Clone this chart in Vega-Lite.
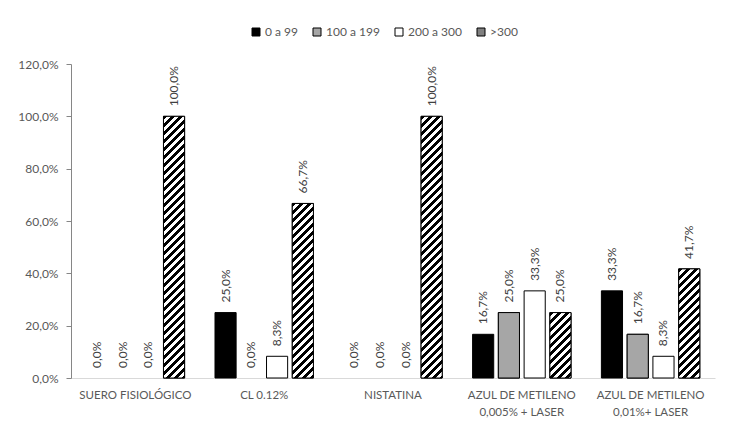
{
  "$schema": "https://vega.github.io/schema/vega-lite/v6.json",
  "autosize": {"type": "none"},
  "width": 644,
  "height": 314,
  "padding": {"left": 71, "top": 64, "right": 27, "bottom": 63},
  "background": "white",
  "config": {
    "font": "Lato",
    "view": {"stroke": null},
    "locale": {"number": {"decimal": ",", "thousands": ".", "grouping": [3], "currency": ["", " €"]}},
    "axis": {"grid": false, "labelFont": "Lato", "labelFontSize": 12, "labelColor": "#595959", "title": null}
  },
  "data": {"values": [
    {"grupo": "SUERO FISIOLÓGICO", "rango": "0 a 99", "valor": 0},
    {"grupo": "SUERO FISIOLÓGICO", "rango": "100 a 199", "valor": 0},
    {"grupo": "SUERO FISIOLÓGICO", "rango": "200 a 300", "valor": 0},
    {"grupo": "SUERO FISIOLÓGICO", "rango": ">300", "valor": 1.0},
    {"grupo": "CL 0.12%", "rango": "0 a 99", "valor": 0.25},
    {"grupo": "CL 0.12%", "rango": "100 a 199", "valor": 0},
    {"grupo": "CL 0.12%", "rango": "200 a 300", "valor": 0.083},
    {"grupo": "CL 0.12%", "rango": ">300", "valor": 0.667},
    {"grupo": "NISTATINA", "rango": "0 a 99", "valor": 0},
    {"grupo": "NISTATINA", "rango": "100 a 199", "valor": 0},
    {"grupo": "NISTATINA", "rango": "200 a 300", "valor": 0},
    {"grupo": "NISTATINA", "rango": ">300", "valor": 1.0},
    {"grupo": "AZUL DE METILENO\n0,005% + LASER", "rango": "0 a 99", "valor": 0.167},
    {"grupo": "AZUL DE METILENO\n0,005% + LASER", "rango": "100 a 199", "valor": 0.25},
    {"grupo": "AZUL DE METILENO\n0,005% + LASER", "rango": "200 a 300", "valor": 0.333},
    {"grupo": "AZUL DE METILENO\n0,005% + LASER", "rango": ">300", "valor": 0.25},
    {"grupo": "AZUL DE METILENO\n0,01%+ LASER", "rango": "0 a 99", "valor": 0.333},
    {"grupo": "AZUL DE METILENO\n0,01%+ LASER", "rango": "100 a 199", "valor": 0.167},
    {"grupo": "AZUL DE METILENO\n0,01%+ LASER", "rango": "200 a 300", "valor": 0.083},
    {"grupo": "AZUL DE METILENO\n0,01%+ LASER", "rango": ">300", "valor": 0.417}
  ]},
  "encoding": {
    "x": {"field": "grupo", "type": "nominal", "sort": null,
      "scale": {"paddingInner": 0.2, "paddingOuter": 0.1},
      "axis": {"labelAngle": 0, "ticks": false, "domainColor": "#d9d9d9", "labelFontSize": 11.5, "labelPadding": 11, "labelLineHeight": 17, "labelExpr": "split(datum.label, '\\n')"}},
    "xOffset": {"field": "rango", "type": "nominal", "sort": ["0 a 99", "100 a 199", "200 a 300", ">300"],
      "scale": {"paddingInner": 0.18, "paddingOuter": 0.09}},
    "y": {"field": "valor", "type": "quantitative",
      "scale": {"domain": [0, 1.2], "nice": false},
      "axis": {"values": [0, 0.2, 0.4, 0.6, 0.8, 1.0, 1.2], "format": ".1%", "labelFontSize": 12, "domainColor": "#868686", "tickColor": "#868686", "tickSize": 5, "labelPadding": 8}}
  },
  "layer": [
    {
      "transform": [{"filter": "datum.valor > 0"}],
      "mark": {"type": "bar", "stroke": "#000", "strokeWidth": 1},
      "encoding": {
        "color": {"field": "rango", "type": "nominal", "sort": ["0 a 99", "100 a 199", "200 a 300", ">300"],
          "scale": {"domain": ["0 a 99", "100 a 199", "200 a 300", ">300"],
            "range": ["#000000", "#a6a6a6", "#ffffff", "#808080"]},
          "legend": {"orient": "none", "legendX": 179, "legendY": -38, "direction": "horizontal", "title": null,
            "symbolType": "square", "symbolSize": 64, "symbolStrokeColor": "#000", "symbolStrokeWidth": 1,
            "labelFontSize": 12, "labelColor": "#595959", "labelFont": "Lato", "columnPadding": 13, "labelOffset": 3,
            "encoding": {"symbols": {
              "stroke": {"value": "#000"},
              "strokeWidth": {"value": 1},
              "fill": {"value": {"expr": "datum.label == '>300' ? {gradient: 'linear', x1: 0, y1: 0, x2: 1, y2: 1, stops: [{offset: 0, color: '#fff'}, {offset: 0.5, color: '#fff'}, {offset: 0.5, color: '#000'}, {offset: 1, color: '#000'}]} : datum.label == '100 a 199' ? {gradient: 'radial', x1: 0.5, y1: 0.5, r1: 0, x2: 0.5, y2: 0.5, r2: 0.5, stops: [{offset: 0, color: '#000'}, {offset: 0.42, color: '#000'}, {offset: 0.42, color: '#fff'}, {offset: 1, color: '#fff'}]} : datum.label == '0 a 99' ? '#000' : '#fff'"}}}}}
        }
      }
    },
    {
      "transform": [{"filter": "datum.valor > 0 && (datum.rango == '>300' || datum.rango == '100 a 199')"}],
      "mark": {"type": "bar", "stroke": "#000", "strokeWidth": 1},
      "encoding": {
        "fill": {
          "condition": [
            {"test": "datum.rango == '100 a 199'", "value": "#a6a6a6"},
            {"test": "datum.valor > 0.9", "value": {"gradient": "linear", "x1": 0, "y1": 0, "x2": 0.09797, "y2": 1.21502, "stops": [
              {"offset":0,"color":"#000"},{"offset":0.0125,"color":"#000"},{"offset":0.0125,"color":"#fff"},{"offset":0.025,"color":"#fff"},
              {"offset":0.025,"color":"#000"},{"offset":0.0375,"color":"#000"},{"offset":0.0375,"color":"#fff"},{"offset":0.05,"color":"#fff"},
              {"offset":0.05,"color":"#000"},{"offset":0.0625,"color":"#000"},{"offset":0.0625,"color":"#fff"},{"offset":0.075,"color":"#fff"},
              {"offset":0.075,"color":"#000"},{"offset":0.0875,"color":"#000"},{"offset":0.0875,"color":"#fff"},{"offset":0.1,"color":"#fff"},
              {"offset":0.1,"color":"#000"},{"offset":0.1125,"color":"#000"},{"offset":0.1125,"color":"#fff"},{"offset":0.125,"color":"#fff"},
              {"offset":0.125,"color":"#000"},{"offset":0.1375,"color":"#000"},{"offset":0.1375,"color":"#fff"},{"offset":0.15,"color":"#fff"},
              {"offset":0.15,"color":"#000"},{"offset":0.1625,"color":"#000"},{"offset":0.1625,"color":"#fff"},{"offset":0.175,"color":"#fff"},
              {"offset":0.175,"color":"#000"},{"offset":0.1875,"color":"#000"},{"offset":0.1875,"color":"#fff"},{"offset":0.2,"color":"#fff"},
              {"offset":0.2,"color":"#000"},{"offset":0.2125,"color":"#000"},{"offset":0.2125,"color":"#fff"},{"offset":0.225,"color":"#fff"},
              {"offset":0.225,"color":"#000"},{"offset":0.2375,"color":"#000"},{"offset":0.2375,"color":"#fff"},{"offset":0.25,"color":"#fff"},
              {"offset":0.25,"color":"#000"},{"offset":0.2625,"color":"#000"},{"offset":0.2625,"color":"#fff"},{"offset":0.275,"color":"#fff"},
              {"offset":0.275,"color":"#000"},{"offset":0.2875,"color":"#000"},{"offset":0.2875,"color":"#fff"},{"offset":0.3,"color":"#fff"},
              {"offset":0.3,"color":"#000"},{"offset":0.3125,"color":"#000"},{"offset":0.3125,"color":"#fff"},{"offset":0.325,"color":"#fff"},
              {"offset":0.325,"color":"#000"},{"offset":0.3375,"color":"#000"},{"offset":0.3375,"color":"#fff"},{"offset":0.35,"color":"#fff"},
              {"offset":0.35,"color":"#000"},{"offset":0.3625,"color":"#000"},{"offset":0.3625,"color":"#fff"},{"offset":0.375,"color":"#fff"},
              {"offset":0.375,"color":"#000"},{"offset":0.3875,"color":"#000"},{"offset":0.3875,"color":"#fff"},{"offset":0.4,"color":"#fff"},
              {"offset":0.4,"color":"#000"},{"offset":0.4125,"color":"#000"},{"offset":0.4125,"color":"#fff"},{"offset":0.425,"color":"#fff"},
              {"offset":0.425,"color":"#000"},{"offset":0.4375,"color":"#000"},{"offset":0.4375,"color":"#fff"},{"offset":0.45,"color":"#fff"},
              {"offset":0.45,"color":"#000"},{"offset":0.4625,"color":"#000"},{"offset":0.4625,"color":"#fff"},{"offset":0.475,"color":"#fff"},
              {"offset":0.475,"color":"#000"},{"offset":0.4875,"color":"#000"},{"offset":0.4875,"color":"#fff"},{"offset":0.5,"color":"#fff"},
              {"offset":0.5,"color":"#000"},{"offset":0.5125,"color":"#000"},{"offset":0.5125,"color":"#fff"},{"offset":0.525,"color":"#fff"},
              {"offset":0.525,"color":"#000"},{"offset":0.5375,"color":"#000"},{"offset":0.5375,"color":"#fff"},{"offset":0.55,"color":"#fff"},
              {"offset":0.55,"color":"#000"},{"offset":0.5625,"color":"#000"},{"offset":0.5625,"color":"#fff"},{"offset":0.575,"color":"#fff"},
              {"offset":0.575,"color":"#000"},{"offset":0.5875,"color":"#000"},{"offset":0.5875,"color":"#fff"},{"offset":0.6,"color":"#fff"},
              {"offset":0.6,"color":"#000"},{"offset":0.6125,"color":"#000"},{"offset":0.6125,"color":"#fff"},{"offset":0.625,"color":"#fff"},
              {"offset":0.625,"color":"#000"},{"offset":0.6375,"color":"#000"},{"offset":0.6375,"color":"#fff"},{"offset":0.65,"color":"#fff"},
              {"offset":0.65,"color":"#000"},{"offset":0.6625,"color":"#000"},{"offset":0.6625,"color":"#fff"},{"offset":0.675,"color":"#fff"},
              {"offset":0.675,"color":"#000"},{"offset":0.6875,"color":"#000"},{"offset":0.6875,"color":"#fff"},{"offset":0.7,"color":"#fff"},
              {"offset":0.7,"color":"#000"},{"offset":0.7125,"color":"#000"},{"offset":0.7125,"color":"#fff"},{"offset":0.725,"color":"#fff"},
              {"offset":0.725,"color":"#000"},{"offset":0.7375,"color":"#000"},{"offset":0.7375,"color":"#fff"},{"offset":0.75,"color":"#fff"},
              {"offset":0.75,"color":"#000"},{"offset":0.7625,"color":"#000"},{"offset":0.7625,"color":"#fff"},{"offset":0.775,"color":"#fff"},
              {"offset":0.775,"color":"#000"},{"offset":0.7875,"color":"#000"},{"offset":0.7875,"color":"#fff"},{"offset":0.8,"color":"#fff"},
              {"offset":0.8,"color":"#000"},{"offset":0.8125,"color":"#000"},{"offset":0.8125,"color":"#fff"},{"offset":0.825,"color":"#fff"},
              {"offset":0.825,"color":"#000"},{"offset":0.8375,"color":"#000"},{"offset":0.8375,"color":"#fff"},{"offset":0.85,"color":"#fff"},
              {"offset":0.85,"color":"#000"},{"offset":0.8625,"color":"#000"},{"offset":0.8625,"color":"#fff"},{"offset":0.875,"color":"#fff"},
              {"offset":0.875,"color":"#000"},{"offset":0.8875,"color":"#000"},{"offset":0.8875,"color":"#fff"},{"offset":0.9,"color":"#fff"}
            ]}},
            {"test": "datum.valor > 0.6", "value": {"gradient": "linear", "x1": 0, "y1": 0, "x2": 0.21847, "y2": 1.80708, "stops": [
              {"offset":0,"color":"#000"},{"offset":0.0125,"color":"#000"},{"offset":0.0125,"color":"#fff"},{"offset":0.025,"color":"#fff"},
              {"offset":0.025,"color":"#000"},{"offset":0.0375,"color":"#000"},{"offset":0.0375,"color":"#fff"},{"offset":0.05,"color":"#fff"},
              {"offset":0.05,"color":"#000"},{"offset":0.0625,"color":"#000"},{"offset":0.0625,"color":"#fff"},{"offset":0.075,"color":"#fff"},
              {"offset":0.075,"color":"#000"},{"offset":0.0875,"color":"#000"},{"offset":0.0875,"color":"#fff"},{"offset":0.1,"color":"#fff"},
              {"offset":0.1,"color":"#000"},{"offset":0.1125,"color":"#000"},{"offset":0.1125,"color":"#fff"},{"offset":0.125,"color":"#fff"},
              {"offset":0.125,"color":"#000"},{"offset":0.1375,"color":"#000"},{"offset":0.1375,"color":"#fff"},{"offset":0.15,"color":"#fff"},
              {"offset":0.15,"color":"#000"},{"offset":0.1625,"color":"#000"},{"offset":0.1625,"color":"#fff"},{"offset":0.175,"color":"#fff"},
              {"offset":0.175,"color":"#000"},{"offset":0.1875,"color":"#000"},{"offset":0.1875,"color":"#fff"},{"offset":0.2,"color":"#fff"},
              {"offset":0.2,"color":"#000"},{"offset":0.2125,"color":"#000"},{"offset":0.2125,"color":"#fff"},{"offset":0.225,"color":"#fff"},
              {"offset":0.225,"color":"#000"},{"offset":0.2375,"color":"#000"},{"offset":0.2375,"color":"#fff"},{"offset":0.25,"color":"#fff"},
              {"offset":0.25,"color":"#000"},{"offset":0.2625,"color":"#000"},{"offset":0.2625,"color":"#fff"},{"offset":0.275,"color":"#fff"},
              {"offset":0.275,"color":"#000"},{"offset":0.2875,"color":"#000"},{"offset":0.2875,"color":"#fff"},{"offset":0.3,"color":"#fff"},
              {"offset":0.3,"color":"#000"},{"offset":0.3125,"color":"#000"},{"offset":0.3125,"color":"#fff"},{"offset":0.325,"color":"#fff"},
              {"offset":0.325,"color":"#000"},{"offset":0.3375,"color":"#000"},{"offset":0.3375,"color":"#fff"},{"offset":0.35,"color":"#fff"},
              {"offset":0.35,"color":"#000"},{"offset":0.3625,"color":"#000"},{"offset":0.3625,"color":"#fff"},{"offset":0.375,"color":"#fff"},
              {"offset":0.375,"color":"#000"},{"offset":0.3875,"color":"#000"},{"offset":0.3875,"color":"#fff"},{"offset":0.4,"color":"#fff"},
              {"offset":0.4,"color":"#000"},{"offset":0.4125,"color":"#000"},{"offset":0.4125,"color":"#fff"},{"offset":0.425,"color":"#fff"},
              {"offset":0.425,"color":"#000"},{"offset":0.4375,"color":"#000"},{"offset":0.4375,"color":"#fff"},{"offset":0.45,"color":"#fff"},
              {"offset":0.45,"color":"#000"},{"offset":0.4625,"color":"#000"},{"offset":0.4625,"color":"#fff"},{"offset":0.475,"color":"#fff"},
              {"offset":0.475,"color":"#000"},{"offset":0.4875,"color":"#000"},{"offset":0.4875,"color":"#fff"},{"offset":0.5,"color":"#fff"},
              {"offset":0.5,"color":"#000"},{"offset":0.5125,"color":"#000"},{"offset":0.5125,"color":"#fff"},{"offset":0.525,"color":"#fff"},
              {"offset":0.525,"color":"#000"},{"offset":0.5375,"color":"#000"},{"offset":0.5375,"color":"#fff"},{"offset":0.55,"color":"#fff"},
              {"offset":0.55,"color":"#000"},{"offset":0.5625,"color":"#000"},{"offset":0.5625,"color":"#fff"},{"offset":0.575,"color":"#fff"},
              {"offset":0.575,"color":"#000"},{"offset":0.5875,"color":"#000"},{"offset":0.5875,"color":"#fff"},{"offset":0.6,"color":"#fff"},
              {"offset":0.6,"color":"#000"},{"offset":0.6125,"color":"#000"},{"offset":0.6125,"color":"#fff"},{"offset":0.625,"color":"#fff"}
            ]}},
            {"test": "datum.valor > 0.35", "value": {"gradient": "linear", "x1": 0, "y1": 0, "x2": 0.54666, "y2": 2.82703, "stops": [
              {"offset":0,"color":"#000"},{"offset":0.0125,"color":"#000"},{"offset":0.0125,"color":"#fff"},{"offset":0.025,"color":"#fff"},
              {"offset":0.025,"color":"#000"},{"offset":0.0375,"color":"#000"},{"offset":0.0375,"color":"#fff"},{"offset":0.05,"color":"#fff"},
              {"offset":0.05,"color":"#000"},{"offset":0.0625,"color":"#000"},{"offset":0.0625,"color":"#fff"},{"offset":0.075,"color":"#fff"},
              {"offset":0.075,"color":"#000"},{"offset":0.0875,"color":"#000"},{"offset":0.0875,"color":"#fff"},{"offset":0.1,"color":"#fff"},
              {"offset":0.1,"color":"#000"},{"offset":0.1125,"color":"#000"},{"offset":0.1125,"color":"#fff"},{"offset":0.125,"color":"#fff"},
              {"offset":0.125,"color":"#000"},{"offset":0.1375,"color":"#000"},{"offset":0.1375,"color":"#fff"},{"offset":0.15,"color":"#fff"},
              {"offset":0.15,"color":"#000"},{"offset":0.1625,"color":"#000"},{"offset":0.1625,"color":"#fff"},{"offset":0.175,"color":"#fff"},
              {"offset":0.175,"color":"#000"},{"offset":0.1875,"color":"#000"},{"offset":0.1875,"color":"#fff"},{"offset":0.2,"color":"#fff"},
              {"offset":0.2,"color":"#000"},{"offset":0.2125,"color":"#000"},{"offset":0.2125,"color":"#fff"},{"offset":0.225,"color":"#fff"},
              {"offset":0.225,"color":"#000"},{"offset":0.2375,"color":"#000"},{"offset":0.2375,"color":"#fff"},{"offset":0.25,"color":"#fff"},
              {"offset":0.25,"color":"#000"},{"offset":0.2625,"color":"#000"},{"offset":0.2625,"color":"#fff"},{"offset":0.275,"color":"#fff"},
              {"offset":0.275,"color":"#000"},{"offset":0.2875,"color":"#000"},{"offset":0.2875,"color":"#fff"},{"offset":0.3,"color":"#fff"},
              {"offset":0.3,"color":"#000"},{"offset":0.3125,"color":"#000"},{"offset":0.3125,"color":"#fff"},{"offset":0.325,"color":"#fff"},
              {"offset":0.325,"color":"#000"},{"offset":0.3375,"color":"#000"},{"offset":0.3375,"color":"#fff"},{"offset":0.35,"color":"#fff"},
              {"offset":0.35,"color":"#000"},{"offset":0.3625,"color":"#000"},{"offset":0.3625,"color":"#fff"},{"offset":0.375,"color":"#fff"},
              {"offset":0.375,"color":"#000"},{"offset":0.3875,"color":"#000"},{"offset":0.3875,"color":"#fff"},{"offset":0.4,"color":"#fff"},
              {"offset":0.4,"color":"#000"},{"offset":0.4125,"color":"#000"},{"offset":0.4125,"color":"#fff"},{"offset":0.425,"color":"#fff"}
            ]}}
          ],
          "value": {"gradient": "linear", "x1": 0, "y1": 0, "x2": 1.42899, "y2": 4.43055, "stops": [
              {"offset":0,"color":"#000"},{"offset":0.0125,"color":"#000"},{"offset":0.0125,"color":"#fff"},{"offset":0.025,"color":"#fff"},
              {"offset":0.025,"color":"#000"},{"offset":0.0375,"color":"#000"},{"offset":0.0375,"color":"#fff"},{"offset":0.05,"color":"#fff"},
              {"offset":0.05,"color":"#000"},{"offset":0.0625,"color":"#000"},{"offset":0.0625,"color":"#fff"},{"offset":0.075,"color":"#fff"},
              {"offset":0.075,"color":"#000"},{"offset":0.0875,"color":"#000"},{"offset":0.0875,"color":"#fff"},{"offset":0.1,"color":"#fff"},
              {"offset":0.1,"color":"#000"},{"offset":0.1125,"color":"#000"},{"offset":0.1125,"color":"#fff"},{"offset":0.125,"color":"#fff"},
              {"offset":0.125,"color":"#000"},{"offset":0.1375,"color":"#000"},{"offset":0.1375,"color":"#fff"},{"offset":0.15,"color":"#fff"},
              {"offset":0.15,"color":"#000"},{"offset":0.1625,"color":"#000"},{"offset":0.1625,"color":"#fff"},{"offset":0.175,"color":"#fff"},
              {"offset":0.175,"color":"#000"},{"offset":0.1875,"color":"#000"},{"offset":0.1875,"color":"#fff"},{"offset":0.2,"color":"#fff"},
              {"offset":0.2,"color":"#000"},{"offset":0.2125,"color":"#000"},{"offset":0.2125,"color":"#fff"},{"offset":0.225,"color":"#fff"},
              {"offset":0.225,"color":"#000"},{"offset":0.2375,"color":"#000"},{"offset":0.2375,"color":"#fff"},{"offset":0.25,"color":"#fff"},
              {"offset":0.25,"color":"#000"},{"offset":0.2625,"color":"#000"},{"offset":0.2625,"color":"#fff"},{"offset":0.275,"color":"#fff"}
          ]}
        }
      }
    },
    {
      "mark": {"type": "text", "angle": 270, "align": "left", "baseline": "middle", "dx": 10, "fontSize": 12, "color": "#404040", "font": "Lato"},
      "encoding": {
        "text": {"field": "valor", "type": "quantitative", "format": ".1%"}
      }
    }
  ]
}
